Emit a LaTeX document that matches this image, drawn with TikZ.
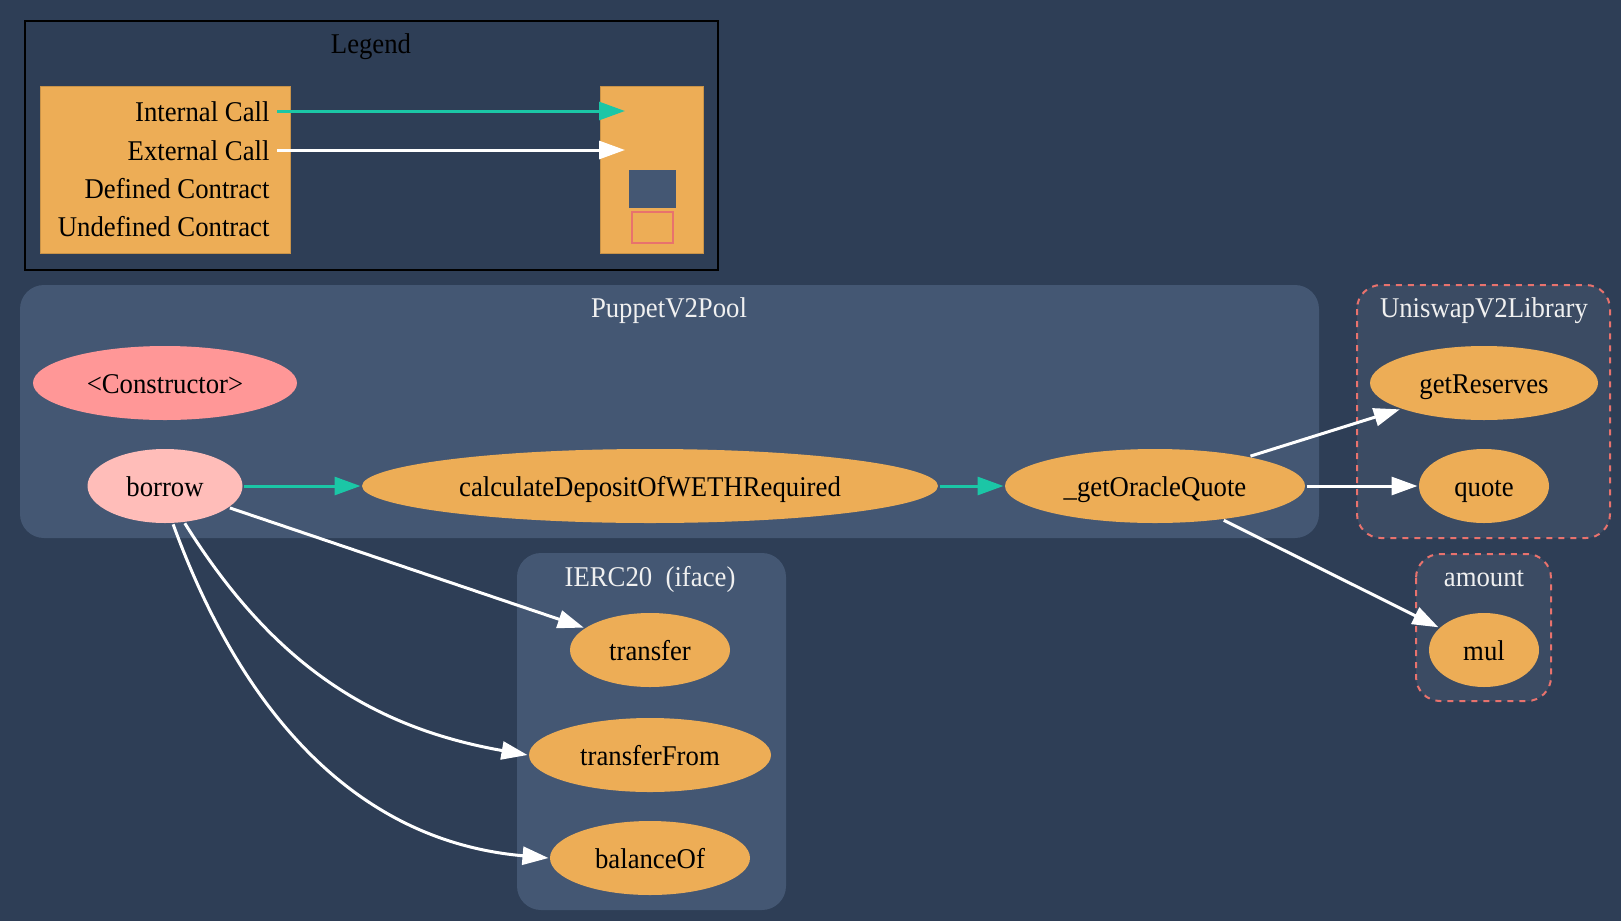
\documentclass[tikz,border=0pt]{standalone}
\usepackage{fontspec}
\setmainfont{Liberation Serif}[FakeStretch=0.935]
\usetikzlibrary{shapes.geometric, arrows.meta}
\definecolor{bgnavy}{HTML}{2E3E56}
\definecolor{clusterfill}{HTML}{445773}
\definecolor{libfill}{HTML}{3B4B63}
\definecolor{fnorange}{HTML}{EDAD56}
\definecolor{ctorpink}{HTML}{FF9797}
\definecolor{extpink}{HTML}{FFBDB9}
\definecolor{callteal}{HTML}{1BC6A6}
\definecolor{undefred}{HTML}{E8726D}
\definecolor{titlegray}{HTML}{F0F0F0}
\tikzstyle{every node}=[font=\fontsize{14.3}{17}\selectfont, text height=12pt, text depth=2pt]
\tikzstyle{func}=[ellipse, fill=fnorange, inner sep=0pt, minimum height=37pt]
\tikzstyle{clustertitle}=[text=titlegray]
\tikzstyle{legendlbl}=[anchor=east, inner sep=3pt]
\tikzstyle{intcall}=[draw=callteal, -{Triangle[length=13pt,width=9pt]}]
\tikzstyle{extcall}=[draw=white, -{Triangle[length=13pt,width=9pt]}]

\begin{document}
\begin{tikzpicture}[x=0.5pt, y=-0.5pt, line width=1.5pt]
% Background
    \fill[bgnavy] (0,0) rectangle (1621,921);
    \useasboundingbox (0,0) rectangle (1621,921);
% Legend
    \draw[black, line width=1.2pt] (25,21) rectangle (718,270);
    \node (legendttl) at (371,44) {Legend};
    \filldraw[fill=fnorange, draw=fnorange!85!black, line width=0.5pt] (40,86) rectangle (290,253);
    \filldraw[fill=fnorange, draw=fnorange!85!black, line width=0.5pt] (600,86) rectangle (703,253);
    \node[legendlbl] (intlbl) at (277,111) {Internal Call};
    \node[legendlbl] (extlbl) at (277,150) {External Call};
    \node[legendlbl] (deflbl) at (277,188) {Defined Contract};
    \node[legendlbl] (undeflbl) at (277,226) {Undefined Contract};
    \coordinate (intdst) at (625,111);
    \coordinate (extdst) at (625,150);
    \draw[intcall] (intlbl.east) -- (intdst);
    \draw[extcall] (extlbl.east) -- (extdst);
    \fill[clusterfill] (629,170) rectangle (676,208);
    \draw[undefred, line width=1pt] (632,212) rectangle (673,243);
% Clusters
    \fill[clusterfill, rounded corners=12pt] (20,285) rectangle (1319,538);
    \node[clustertitle] (poolttl) at (669,307) {PuppetV2Pool};
    \filldraw[fill=libfill, draw=undefred, dashed, line width=1pt, rounded corners=12pt] (1357,285) rectangle (1610,538);
    \node[clustertitle] (libttl) at (1484,307) {UniswapV2Library};
    \filldraw[fill=libfill, draw=undefred, dashed, line width=1pt, rounded corners=12pt] (1416,554) rectangle (1551,701);
    \node[clustertitle] (amountttl) at (1484,576) {amount};
    \fill[clusterfill, rounded corners=12pt] (517,553) rectangle (786,910);
    \node[clustertitle] (ercttl) at (650,576) {IERC20\ \ (iface)};
% Functions
    \node[func, fill=ctorpink, minimum width=132pt] (ctor) at (165,383) {<Constructor>};
    \node[func, fill=extpink, minimum width=77.5pt] (borrow) at (165,486) {borrow};
    \node[func, minimum width=288pt] (calcdeposit) at (650,486) {calculateDepositOfWETHRequired};
    \node[func, minimum width=150pt] (oraclequote) at (1155,486) {\_getOracleQuote};
    \node[func, minimum width=114pt] (getreserves) at (1484,383) {getReserves};
    \node[func, minimum width=65pt] (quote) at (1484,486) {quote};
    \node[func, minimum width=55pt] (mul) at (1484,650) {mul};
    \node[func, minimum width=80pt] (transfer) at (650,650) {transfer};
    \node[func, minimum width=121pt] (transferfrom) at (650,755) {transferFrom};
    \node[func, minimum width=100pt] (balanceof) at (650,858) {balanceOf};
% Internal calls
    \draw[intcall] (borrow) -- (calcdeposit);
    \draw[intcall] (calcdeposit) -- (oraclequote);
% External calls
    \draw[extcall] (oraclequote) -- (getreserves);
    \draw[extcall] (oraclequote) -- (quote);
    \draw[extcall] (oraclequote) -- (mul);
    \draw[extcall] (borrow) -- (transfer);
    \draw[extcall] (borrow.-62) to[out=-58, in=170] (transferfrom.west);
    \draw[extcall] (borrow.-78) to[out=-70, in=175] (balanceof.west);
\end{tikzpicture}
\end{document}
